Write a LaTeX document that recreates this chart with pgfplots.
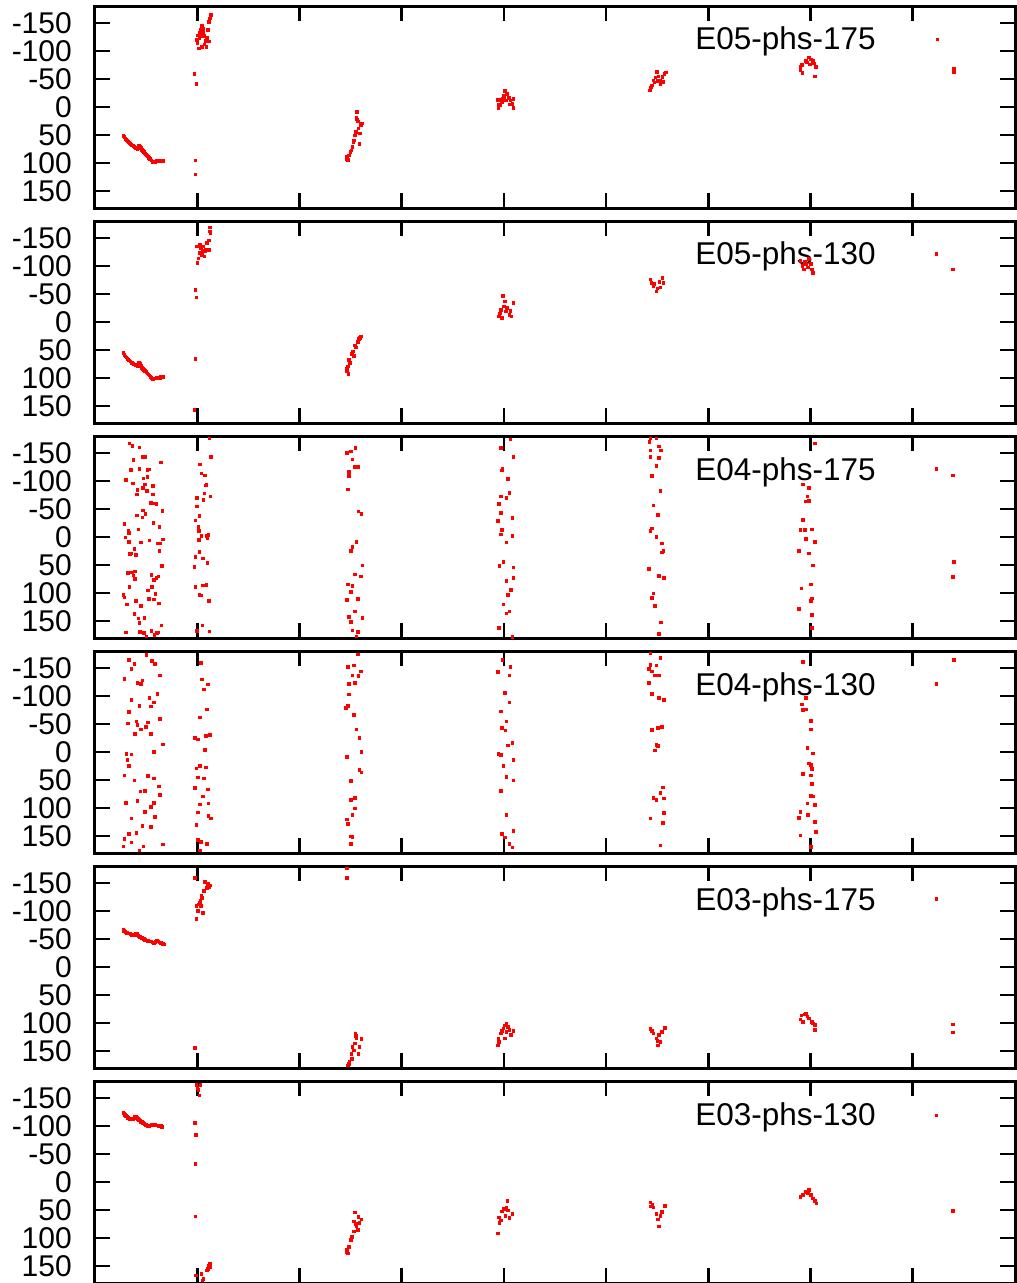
\documentclass[border=0pt]{standalone}
\usepackage{pgfplots}
\pgfplotsset{compat=1.18}
\usepackage{fontspec}
\setmainfont{Liberation Sans}
\pgfplotsset{
  panel/.style={
    width=920pt, height=202pt, scale only axis,
    xmin=0, xmax=9, ymin=-180, ymax=180, y dir=reverse,
    xtick={1,2,3,4,5,6,7,8}, xticklabels={},
    ytick={-150,-100,-50,0,50,100,150},
    yticklabels={-150,-100,-50,0,50,100,150},
    tick align=inside, major tick length=15pt,
    every tick/.style={black, line width=2.6pt},
    axis line style={line width=3pt},
    yticklabel style={font=\fontsize{30}{36}\selectfont, anchor=east, inner sep=0pt, xshift=-23pt},
    anchor=north west,
  },
  pts/.style={only marks, mark=square*, color=red, mark size=1.3pt, mark options={draw=none, fill=red}},
}
\newcommand{\plab}[1]{\node[anchor=base east, font=\fontsize{31.5}{36}\selectfont, inner sep=0pt] at (axis cs:7.64,-101.6) {#1};}
\begin{document}
\begin{tikzpicture}
\useasboundingbox (0pt,0pt) rectangle (1017pt,-1283pt);
% Panel 1: E05-phs-175
\begin{axis}[panel, at={(95pt,-6pt)}]
\addplot[pts] coordinates {
(0.277,51)(0.285,53)(0.295,56)(0.305,58)(0.315,60)(0.325,62)(0.335,64)(0.345,65)(0.355,67)(0.365,68)(0.375,69)(0.385,71)(0.395,72)(0.405,73)(0.414,74)(0.422,71)(0.43,68)(0.438,70)(0.446,73)(0.455,76)(0.466,78)(0.478,80)(0.489,82)(0.497,84)(0.505,86)(0.515,88)(0.525,90)(0.538,92)(0.55,95)(0.56,97)(0.571,98)(0.585,97)(0.6,96)(0.615,96)(0.63,95)(0.645,96)(0.66,96)(0.669,96)
(0.972,-59)(0.99,-41)(0.98,95)(0.98,120)
(1.133,-164)(1.12,-158)(1.11,-152)(1.1,-138)(1.043,-145)(1.027,-132)(1.053,-132)(1.066,-127)(1.02,-123)(0.995,-120)(1.0,-114)(1.03,-126)(1.043,-108)(1.014,-105)(1.086,-107)(1.09,-123)(1.11,-117)(1.077,-118)(1.06,-140)(1.035,-138)(1.07,-112)(1.005,-128)
(2.46,92)(2.465,89)(2.47,94)(2.48,86)(2.495,80)(2.505,77)(2.515,71)(2.53,59)(2.525,63)(2.54,50)(2.55,44)(2.575,38)(2.59,47)(2.585,65)(2.61,29)(2.6,32)(2.56,22)(2.555,18)(2.56,8)(2.57,25)
(3.946,1)(3.96,-3)(3.98,-9)(3.936,-13)(3.96,-13)(3.99,-15)(4.0,-21)(4.01,-29)(4.03,-24)(4.045,-17)(4.06,-12)(4.09,-15)(4.08,-6)(4.09,1)(4.05,-5)(4.02,-12)(3.95,-5)(4.0,-18)
(5.424,-30)(5.446,-39)(5.46,-48)(5.48,-53)(5.496,-63)(5.51,-55)(5.53,-48)(5.55,-54)(5.57,-59)(5.585,-62)(5.56,-45)(5.53,-42)(5.50,-47)(5.435,-35)(5.47,-44)
(6.898,-66)(6.915,-75)(6.95,-83)(6.98,-89)(7.0,-85)(7.03,-78)(7.05,-72)(7.04,-55)(6.92,-61)(6.99,-76)(6.96,-80)(6.90,-72)(7.02,-82)
(8.24,-121)(8.40,-69)(8.40,-63)
};
\plab{E05-phs-175}
\end{axis}
% Panel 2: E05-phs-130
\begin{axis}[panel, at={(95pt,-221pt)}]
\addplot[pts] coordinates {
(0.277,55)(0.285,58)(0.295,61)(0.305,63)(0.315,65)(0.325,67)(0.335,68)(0.345,70)(0.355,72)(0.365,73)(0.375,74)(0.385,75)(0.395,76)(0.405,77)(0.414,78)(0.422,75)(0.43,72)(0.438,74)(0.446,78)(0.455,81)(0.466,83)(0.478,85)(0.489,87)(0.5,89)(0.51,91)(0.52,93)(0.53,95)(0.54,97)(0.55,99)(0.56,101)(0.571,102)(0.585,100)(0.6,99)(0.615,99)(0.63,99)(0.645,98)(0.66,98)(0.669,98)
(0.98,-58)(0.99,-44)(0.98,65)(0.972,156)
(1.12,-169)(1.125,-158)(1.11,-146)(1.09,-141)(1.06,-135)(1.027,-138)(0.995,-135)(1.077,-126)(1.043,-120)(1.01,-114)(1.0,-106)(1.07,-117)(1.11,-129)(1.085,-129)(1.05,-127)(1.02,-124)(1.035,-132)(1.12,-162)
(2.46,88)(2.465,83)(2.47,79)(2.48,67)(2.49,72)(2.51,56)(2.52,52)(2.54,41)(2.55,45)(2.57,35)(2.58,30)(2.6,25)(2.59,28)(2.53,60)(2.475,92)
(3.99,-47)(4.01,-37)(3.97,-22)(3.95,-10)(4.05,-13)(4.09,-34)(4.02,-19)(4.07,-10)(3.96,-16)(4.0,-28)(4.03,-25)(4.06,-20)(3.98,-8)
(5.43,-76)(5.46,-64)(5.49,-55)(5.55,-79)(5.53,-62)(5.56,-70)(5.44,-70)(5.5,-60)(5.47,-68)(5.52,-72)
(6.9,-109)(6.95,-103)(6.98,-113)(7.01,-94)(7.02,-88)(6.93,-94)(6.92,-100)(6.97,-98)(7.0,-104)(6.94,-108)
(8.23,-122)(8.39,-94)
};
\plab{E05-phs-130}
\end{axis}
% Panel 3: E04-phs-175
\begin{axis}[panel, at={(95pt,-436pt)}]
\addplot[pts] coordinates {
(0.336,-167)(0.365,-163)(0.431,-160)(0.466,-143)(0.486,-143)(0.375,-138)(0.643,-133)(0.349,-120)(0.434,-122)(0.525,-121)(0.512,-120)(0.300,-102)(0.473,-105)(0.512,-108)(0.369,-96)(0.489,-94)(0.564,-91)(0.414,-84)(0.466,-88)(0.506,-82)(0.408,-76)(0.564,-76)(0.545,-61)(0.571,-60)(0.597,-59)(0.659,-47)(0.466,-48)(0.408,-39)(0.460,-35)(0.492,-42)(0.287,-24)(0.323,-12)(0.329,-8)(0.421,-14)(0.568,-26)(0.629,-18)(0.297,0)(0.329,8)(0.447,9)(0.532,6)(0.662,4)(0.610,11)(0.636,11)(0.382,21)(0.349,29)(0.342,30)(0.629,24)(0.401,32)(0.652,51)(0.320,64)(0.359,63)(0.375,68)(0.391,61)(0.391,74)(0.548,67)(0.597,72)(0.577,76)(0.620,70)(0.336,89)(0.554,89)(0.515,95)(0.277,103)(0.287,107)(0.398,114)(0.528,110)(0.590,101)(0.577,111)(0.623,118)(0.310,120)(0.447,122)(0.382,137)(0.483,144)(0.424,145)(0.434,153)(0.649,157)(0.303,170)(0.440,169)(0.479,171)(0.548,167)(0.620,170)(0.499,177)(0.581,174)(0.603,171)
(1.119,-176)(1.132,-143)(1.027,-130)(1.040,-114)(1.073,-110)(1.086,-94)(1.080,-92)(1.067,-78)(1.125,-73)(0.995,-70)(1.060,-66)(0.995,-55)(1.021,-38)(0.982,-30)(1.008,-18)(1.014,-11)(1.040,-2)(1.014,5)(1.109,-4)(1.099,2)(1.093,-2)(1.021,26)(0.982,35)(1.053,38)(1.099,46)(0.972,53)(0.982,89)(1.053,86)(1.086,85)(1.021,103)(1.034,104)(1.115,114)(1.047,157)(0.995,167)(1.119,168)
(2.460,-150)(2.500,-153)(2.546,-159)(2.517,-139)(2.540,-125)(2.569,-125)(2.483,-116)(2.483,-109)(2.471,-85)(2.575,-46)(2.603,-42)(2.557,8)(2.517,17)(2.500,24)(2.615,50)(2.540,66)(2.598,70)(2.471,84)(2.517,87)(2.500,97)(2.569,110)(2.460,112)(2.540,132)(2.483,142)(2.615,144)(2.500,151)(2.517,166)(2.569,169)(2.557,177)
(4.063,-174)(3.966,-159)(4.092,-143)(3.983,-122)(3.977,-119)(4.040,-104)(4.052,-79)(3.966,-73)(4.023,-70)(3.948,-59)(3.966,-43)(4.080,-34)(3.937,-29)(3.977,-13)(3.966,-5)(4.080,-2)(4.023,9)(3.994,44)(3.954,51)(4.092,54)(4.023,78)(4.092,73)(4.069,94)(4.040,103)(3.994,120)(4.052,132)(4.023,136)(3.948,162)(4.080,178)
(5.431,-176)(5.489,-176)(5.420,-170)(5.517,-162)(5.431,-155)(5.534,-155)(5.431,-143)(5.517,-141)(5.489,-127)(5.448,-109)(5.529,-83)(5.460,-57)(5.506,-40)(5.448,-16)(5.431,-11)(5.489,-1)(5.546,11)(5.557,24)(5.546,27)(5.414,57)(5.517,69)(5.563,73)(5.460,100)(5.448,108)(5.477,122)(5.534,152)(5.517,172)
(7.040,-167)(6.925,-94)(6.983,-88)(6.966,-73)(6.983,-65)(6.954,-64)(6.925,-31)(6.943,-13)(6.897,-13)(7.011,-14)(6.954,3)(7.040,8)(6.885,24)(6.983,29)(7.023,50)(7.000,84)(6.908,91)(7.011,109)(7.000,114)(6.885,128)(7.011,138)(7.011,162)
(8.230,-122)(8.391,-110)(8.400,44)(8.391,71)
};
\plab{E04-phs-175}
\end{axis}
% Panel 4: E04-phs-130
\begin{axis}[panel, at={(95pt,-651pt)}]
\addplot[pts] coordinates {
(0.328,-165)(0.385,-157)(0.500,-173)(0.557,-163)(0.586,-157)(0.356,-148)(0.287,-131)(0.414,-124)(0.460,-128)(0.632,-137)(0.448,-122)(0.356,-93)(0.529,-97)(0.575,-89)(0.609,-104)(0.328,-72)(0.431,-83)(0.632,-59)(0.546,-82)(0.322,-51)(0.402,-55)(0.414,-49)(0.448,-41)(0.517,-53)(0.494,-45)(0.546,-33)(0.391,-33)(0.661,-14)(0.575,-1)(0.305,3)(0.356,4)(0.316,14)(0.328,24)(0.287,41)(0.385,50)(0.517,42)(0.575,47)(0.621,61)(0.443,70)(0.489,69)(0.632,76)(0.299,90)(0.414,87)(0.575,90)(0.546,97)(0.489,106)(0.586,115)(0.356,118)(0.460,131)(0.546,133)(0.328,146)(0.402,144)(0.287,155)(0.356,161)(0.276,168)(0.471,168)(0.661,164)(0.431,175)
(1.034,-159)(1.046,-130)(1.103,-121)(1.063,-112)(1.092,-76)(1.023,-62)(0.977,-25)(1.006,-23)(1.080,-29)(1.121,-31)(1.075,-4)(0.989,29)(1.080,27)(1.023,24)(1.006,45)(1.063,47)(0.977,64)(1.103,66)(1.052,79)(1.023,93)(1.109,91)(1.006,107)(1.109,113)(1.132,118)(0.989,130)(1.006,156)(1.034,160)(1.092,163)(1.023,175)
(2.569,-174)(2.471,-152)(2.529,-155)(2.575,-136)(2.517,-137)(2.598,-144)(2.483,-122)(2.540,-124)(2.483,-103)(2.471,-83)(2.454,-79)(2.529,-67)(2.557,-41)(2.586,-25)(2.603,-1)(2.460,8)(2.586,32)(2.603,36)(2.500,51)(2.540,81)(2.500,85)(2.540,100)(2.517,112)(2.460,120)(2.471,128)(2.500,150)(2.517,151)(2.500,163)
(3.983,-165)(4.063,-152)(3.937,-143)(4.052,-137)(4.006,-106)(4.052,-89)(3.966,-73)(4.023,-55)(3.977,-43)(4.011,-39)(4.080,-17)(4.040,-12)(3.943,3)(3.966,5)(4.092,14)(3.994,24)(4.023,44)(4.092,50)(3.966,69)(4.023,112)(3.977,146)(4.092,140)(4.006,152)(4.052,163)(4.080,170)
(5.431,-176)(5.529,-168)(5.431,-156)(5.489,-155)(5.414,-149)(5.448,-144)(5.517,-137)(5.477,-137)(5.414,-124)(5.448,-104)(5.517,-97)(5.563,-93)(5.448,-40)(5.506,-43)(5.546,-45)(5.489,-13)(5.506,-11)(5.477,-3)(5.552,63)(5.529,72)(5.460,81)(5.563,82)(5.489,85)(5.563,108)(5.431,118)(5.552,126)(5.529,166)
(6.925,-161)(6.954,-97)(6.914,-85)(6.954,-76)(6.925,-75)(7.000,-56)(7.000,-41)(6.966,-8)(7.023,2)(6.983,20)(7.000,23)(7.011,30)(6.925,39)(7.000,41)(7.011,57)(7.000,78)(7.023,79)(6.966,91)(7.040,94)(6.897,106)(6.971,112)(6.885,117)(7.040,124)(7.052,142)(6.897,148)(7.000,169)
(8.40,-164)(8.23,-122)
};
\plab{E04-phs-130}
\end{axis}
% Panel 5: E03-phs-175
\begin{axis}[panel, at={(95pt,-866pt)}]
\addplot[pts] coordinates {
(0.276,-67)(0.283,-65)(0.29,-64)(0.30,-62)(0.308,-61)(0.316,-61)(0.325,-60)(0.335,-60)(0.345,-59)(0.355,-58)(0.365,-57)(0.374,-57)(0.383,-58)(0.392,-59)(0.402,-60)(0.41,-59)(0.418,-57)(0.426,-55)(0.435,-54)(0.445,-53)(0.455,-52)(0.465,-51)(0.475,-50)(0.489,-49)(0.50,-48)(0.515,-47)(0.53,-46)(0.546,-46)(0.56,-44)(0.575,-43)(0.59,-45)(0.603,-47)(0.615,-46)(0.63,-44)(0.644,-43)(0.66,-42)(0.678,-41)
(0.977,-159)(1.075,-152)(1.121,-146)(1.092,-141)(1.063,-136)(1.1,-148)(1.046,-124)(1.023,-115)(0.989,-109)(1.034,-109)(1.006,-100)(1.052,-97)(0.989,-86)(1.03,-118)(1.015,-112)(1.04,-128)(1.11,-143)(0.977,144)
(2.46,-176)(2.46,-159)
(2.471,175)(2.488,169)(2.511,163)(2.529,148)(2.517,142)(2.546,118)(2.557,127)(2.586,142)(2.603,128)(2.575,154)(2.506,154)(2.540,136)(2.55,122)(2.48,172)
(4.023,100)(3.994,109)(3.966,118)(3.943,127)(3.937,139)(4.023,115)(4.052,112)(4.092,114)(4.069,121)(4.040,106)(4.006,127)(3.98,114)(4.01,104)(3.95,133)
(5.431,110)(5.46,118)(5.489,127)(5.517,121)(5.546,115)(5.575,108)(5.506,139)(5.529,133)(5.448,114)(5.5,131)
(6.897,93)(6.954,82)(6.983,91)(7.011,97)(7.040,103)(7.040,112)(6.925,97)(6.966,88)(6.91,86)(6.94,84)(7.02,100)
(8.23,-122)(8.391,102)(8.391,116)
};
\plab{E03-phs-175}
\end{axis}
% Panel 6: E03-phs-130
\begin{axis}[panel, at={(95pt,-1081pt)}]
\addplot[pts] coordinates {
(0.277,-124)(0.285,-122)(0.293,-120)(0.30,-118)(0.31,-117)(0.32,-115)(0.33,-114)(0.34,-113)(0.348,-112)(0.358,-112)(0.368,-113)(0.378,-114)(0.388,-116)(0.397,-117)(0.407,-115)(0.417,-113)(0.427,-111)(0.437,-110)(0.447,-108)(0.457,-107)(0.467,-106)(0.477,-105)(0.487,-103)(0.497,-102)(0.507,-101)(0.517,-100)(0.526,-100)(0.54,-101)(0.555,-102)(0.565,-103)(0.575,-103)(0.59,-102)(0.605,-101)(0.62,-100)(0.64,-100)(0.655,-99)
(0.99,-173)(1.03,-173)(1.01,-164)(1.02,-155)(1.0,-168)
(0.975,-106)(0.985,-84)(0.98,-33)(0.98,61)
(0.985,166)(1.04,163)(1.06,172)(1.09,157)(1.11,148)(1.12,151)(1.12,145)(1.1,155)(1.05,175)
(2.471,127)(2.46,121)(2.483,115)(2.5,103)(2.529,88)(2.557,79)(2.586,73)(2.603,66)(2.529,70)(2.540,54)(2.569,85)(2.511,97)(2.575,62)(2.55,74)(2.465,124)
(4.034,33)(4.023,45)(3.977,52)(3.948,63)(3.954,73)(4.08,56)(4.052,64)(4.011,60)(3.937,91)(4.0,48)(4.04,50)(3.97,68)
(5.431,36)(5.460,45)(5.489,56)(5.506,66)(5.517,79)(5.546,53)(5.575,42)(5.431,43)(5.45,40)(5.53,60)
(6.897,26)(6.954,17)(6.983,14)(7.023,29)(7.057,38)(6.925,23)(7.0,23)(6.97,20)(7.04,33)
(8.23,-119)(8.391,51)
};
\plab{E03-phs-130}
\end{axis}
\end{tikzpicture}
\end{document}
